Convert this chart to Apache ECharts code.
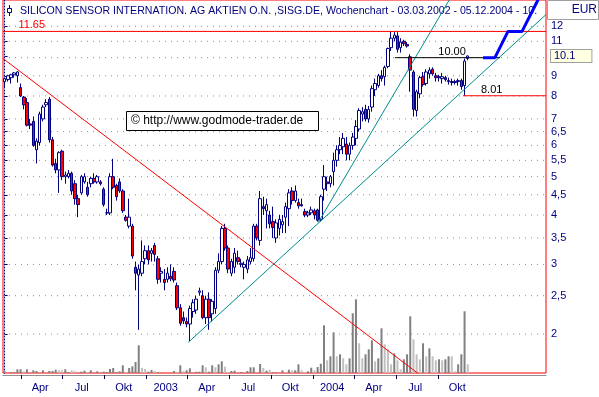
<!DOCTYPE html>
<html><head><meta charset="utf-8">
<script src="https://cdn.jsdelivr.net/npm/echarts@6/dist/echarts.min.js"></script>
<style>html,body{margin:0;padding:0;background:#fff}#c{width:599px;height:397px}</style>
</head><body><div id="c"></div>
<script>
// ---------- DATA ----------
const titleText = 'SILICON SENSOR INTERNATION. AG AKTIEN O.N. ,SISG.DE, Wochenchart - 03.03.2002 - 05.12.2004 - 10.';
const firstWeek = '2002-02-24';
const weekCount = 170; // weeks on the time axis (data + empty projection room)

const weekOpen = [8.7,8.8,8.9,9.05,9.0,8.4,7.95,7.7,6.8,6.9,
5.85,6.1,7.0,7.6,7.85,6.2,5.4,5.2,5.8,5.0,
5.0,5.1,4.8,4.4,4.55,4.85,4.7,4.8,4.95,4.85,
4.85,4.65,4.05,4.05,5.0,4.75,4.85,4.6,3.95,3.75,
3.75,2.95,2.82,2.85,3.1,3.25,3.2,3.35,3.1,2.85,
2.75,2.75,2.8,2.88,2.65,2.33,2.2,2.15,2.12,2.28,
2.3,2.55,2.5,2.2,2.45,2.25,2.32,2.9,3.05,3.7,
3.3,2.85,2.95,3.12,3.0,2.95,2.92,3.05,3.1,3.75,
3.45,4.2,4.1,4.0,3.85,3.5,3.7,3.78,3.95,4.15,
4.6,4.35,4.3,4.25,4.08,4.0,4.05,4.1,4.12,3.9,
4.65,4.85,4.8,5.15,5.5,5.85,5.95,6.05,5.7,6.0,
6.25,6.6,7.2,7.4,7.0,7.5,8.3,8.5,9.0,8.95,
9.5,10.6,11.2,11.35,10.6,11.0,10.8,10.05,9.2,7.35,
8.1,8.95,8.6,9.1,9.35,9.0,8.95,8.85,8.9,8.75,
8.7,8.65,8.7,8.75,8.5,9.95];
const weekHigh = [8.9,9.05,9.1,9.2,9.25,8.6,8.0,7.9,7.0,7.1,
6.25,7.3,7.6,7.85,7.95,6.3,5.55,5.8,5.85,5.15,
5.2,5.15,4.9,4.5,5.05,5.1,4.85,5.0,5.1,5.05,
4.9,4.7,4.15,5.1,5.55,4.8,4.95,4.65,4.0,4.4,
3.8,3.05,3.0,3.45,3.35,3.35,3.3,3.4,3.15,2.95,
2.92,2.95,3.0,2.95,2.7,2.38,2.28,2.2,2.36,2.45,
2.5,2.62,2.58,2.5,2.55,2.45,2.95,3.2,3.75,3.8,
3.35,3.1,3.3,3.25,3.1,3.05,3.15,3.3,3.8,3.8,
4.6,4.45,4.4,4.1,4.2,3.9,4.0,4.0,4.3,4.65,
4.7,4.75,4.4,4.4,4.15,4.1,4.2,4.15,4.15,4.5,
5.35,5.0,5.05,5.75,6.0,6.3,6.45,6.3,6.1,6.45,
6.95,7.45,7.5,7.6,7.55,8.5,8.85,9.1,9.3,9.55,
10.6,11.65,11.6,11.6,11.2,11.1,10.95,10.2,9.3,8.3,
9.0,9.2,9.35,9.45,9.45,9.15,9.05,9.15,9.0,8.9,
8.85,8.8,8.85,8.85,9.95,10.12];
const weekLow = [8.4,8.7,8.6,8.9,8.65,7.95,7.4,6.7,6.6,5.95,
5.4,6.0,6.9,7.5,6.1,5.3,5.1,4.55,4.9,4.8,
4.95,4.5,4.25,3.95,4.5,4.8,4.45,4.7,4.8,4.8,
4.75,4.2,4.0,4.0,4.65,4.35,4.55,4.05,3.85,3.7,
3.1,2.58,2.05,2.8,3.0,3.0,3.05,3.05,2.68,2.7,
2.58,2.7,2.72,2.7,2.3,2.1,2.12,2.08,1.92,2.2,
2.25,2.5,2.18,2.12,2.05,2.15,2.25,2.85,3.0,3.25,
2.85,2.8,2.85,3.0,2.95,2.75,2.85,3.0,3.05,3.45,
3.35,4.0,3.7,3.7,3.5,3.4,3.55,3.6,3.6,3.75,
4.25,4.3,4.15,4.2,3.95,3.95,4.0,3.9,3.85,3.85,
4.35,4.6,4.7,4.75,5.3,5.7,5.7,5.5,5.5,5.85,
6.0,6.5,6.9,6.9,6.85,7.3,8.0,8.4,8.7,8.5,
9.4,10.4,11.0,10.3,10.3,10.7,10.6,8.2,7.1,7.1,
7.9,8.45,8.5,8.85,9.0,8.7,8.7,8.6,8.7,8.55,
8.5,8.55,8.5,8.3,8.01,9.85];
const weekClose = [8.85,9.0,9.05,9.15,9.2,8.0,7.6,6.75,6.75,6.0,
6.15,7.2,7.5,7.7,6.2,5.35,5.2,5.75,5.0,5.05,
5.1,4.6,4.4,4.25,5.0,5.0,4.5,4.95,4.85,5.0,
4.8,4.25,4.05,5.0,4.7,4.45,4.6,4.1,3.88,3.95,
3.15,2.85,2.92,3.05,3.25,3.08,3.25,3.18,2.75,2.88,
2.7,2.85,2.76,2.74,2.33,2.13,2.16,2.12,2.32,2.4,
2.45,2.57,2.2,2.45,2.2,2.42,2.9,3.05,3.7,3.3,
2.92,3.05,3.2,3.05,3.02,3.0,3.08,3.12,3.75,3.5,
4.4,4.15,4.25,3.8,3.72,3.82,3.9,3.85,4.2,4.55,
4.35,4.6,4.22,4.22,4.0,4.05,4.12,4.0,3.88,4.45,
5.0,4.8,5.0,5.5,5.85,6.0,6.25,5.7,6.0,6.3,
6.7,7.35,7.3,7.0,7.4,8.35,8.6,9.0,8.85,9.45,
10.55,11.2,11.4,10.5,10.95,10.85,10.7,9.3,7.4,8.2,
8.9,8.55,9.2,9.3,9.1,8.9,8.9,8.95,8.8,8.7,
8.65,8.7,8.75,8.45,9.8,10.1];

// weekly volume (arbitrary units); dark = first shade, light = second shade
const volumeDark = [17,null,10,10,37,37,null,37,null,27,
20,null,27,null,20,20,33,null,null,37,
10,null,null,null,13,23,null,27,null,17,
null,13,10,40,50,10,17,77,null,50,
67,110,277,null,null,13,30,null,7,3,
null,null,null,20,null,77,null,27,47,null,
13,13,77,null,13,77,null,87,117,null,
null,20,23,null,10,null,20,57,57,null,
90,null,23,null,7,7,null,27,null,33,
null,27,87,null,null,17,53,null,60,93,
477,null,167,407,null,187,null,null,147,597,
737,null,null,187,237,327,null,147,447,null,
null,null,197,null,null,137,187,567,null,null,
null,297,null,247,null,null,137,null,137,167,
null,null,87,187,617,null];
const volumeLight = [null,null,null,null,null,null,17,null,null,null,
null,null,null,null,null,null,null,27,27,null,
null,27,20,null,null,null,10,null,null,null,
null,null,null,null,null,null,null,null,10,null,
null,null,null,50,40,null,null,20,null,null,
null,null,null,null,13,null,20,null,null,null,
null,null,null,57,null,null,57,null,null,63,
10,null,null,null,null,null,null,null,null,null,
null,50,null,33,null,null,null,null,10,null,
27,null,null,27,10,null,null,27,null,null,
null,127,null,null,167,null,147,87,null,null,
null,297,147,null,null,null,117,null,null,287,
237,87,null,127,37,null,null,null,337,187,
137,null,167,null,167,127,null,127,null,null,
167,17,null,null,null,87];

// drawn lines, as [week index, price]
const resistanceLine = [[-0.5, 9.95], [135, 1.47]];
const supportLine1 = [[57.5, 1.905], [169.5, 12.85]];
const supportLine2 = [[98.2, 3.83], [145, 16.8]];
const highLine = [[-0.5, 11.65], [169.5, 11.65]];
const level10Line = [[122.2, 10.0], [155.1, 10.0]];
const level801Line = [[143.5, 8.01], [169.5, 8.01]];
const projectionLine = [[149.8, 10.0], [153.5, 10.0], [157.6, 11.65], [162.0, 11.65], [166.7, 13.85], [169.5, 15.4]];

const quarterStarts = ['2002-04-01','2002-07-01','2002-10-01','2003-01-01','2003-04-01','2003-07-01','2003-10-01','2004-01-01','2004-04-01','2004-07-01','2004-10-01'];
const quarterLabels = ['Apr','Jul','Okt','2003','Apr','Jul','Okt','2004','Apr','Jul','Okt'];
const priceTicks = [2,2.5,3,3.5,4,4.5,5,5.5,6,6.5,7,8,9,10.1,11,12];
const gridLevels = [2,2.5,3,3.5,4,4.5,5,5.5,6,6.5,7,8,9,10,11,12];

// ---------- BUILD ----------
const WEEK = 7 * 86400000;
const t0 = Date.parse(firstWeek + 'T00:00:00Z');
const pad = n => (n < 10 ? '0' : '') + n;
const categories = [];
for (let i = 0; i < weekCount; i++) {
  const d = new Date(t0 + i * WEEK);
  categories.push(pad(d.getUTCDate()) + '.' + pad(d.getUTCMonth() + 1) + '.' + d.getUTCFullYear());
}
const tickPos = quarterStarts.map(s => (Date.parse(s + 'T00:00:00Z') - t0) / WEEK);
const labelPos = tickPos.map(p => p + 6);
const candles = weekOpen.map((o, i) => [o, weekClose[i], weekLow[i], weekHigh[i]]);

const FONT = '"Liberation Sans", Arial, sans-serif';
const NAVY = '#000080';

function lineSeries(name, data, color, width, z, extra) {
  return Object.assign({
    type: 'line', name, data, xAxisIndex: 1, yAxisIndex: 0,
    showSymbol: false, symbol: 'none', silent: true, animation: false, z,
    lineStyle: { color, width }
  }, extra || {});
}
function textMark(coord, text, color, offY) {
  return {
    symbol: 'rect', symbolSize: 1, silent: true,
    itemStyle: { color: 'rgba(0,0,0,0)' },
    label: { show: true, position: 'inside', offset: [0, offY], color, fontSize: 11, fontFamily: FONT, formatter: text },
    data: [{ coord }]
  };
}
const gridSeries = gridLevels.map(v => ({
  type: 'line', name: 'grid' + v, data: [[-0.5, v], [weekCount - 0.5, v]], xAxisIndex: 1, yAxisIndex: 0,
  showSymbol: false, symbol: 'none', silent: true, z: 1,
  lineStyle: { color: '#8c8c8c', width: 1, type: [1, 5] }
}));

const chart = echarts.init(document.getElementById('c'), null, { renderer: 'canvas' });
chart.setOption({
  animation: false,
  backgroundColor: '#fff',
  textStyle: { fontFamily: FONT },
  grid: { left: 3, right: 53, top: 0, bottom: 24, show: true, borderColor: '#ff0000', borderWidth: 1 },
  xAxis: [
    { type: 'category', data: categories, show: false, boundaryGap: true },
    { type: 'value', min: -0.5, max: weekCount - 0.5, position: 'bottom', offset: 2,
      axisLine: { show: true, lineStyle: { color: '#909090' } },
      axisTick: { show: true, customValues: tickPos, length: 4, lineStyle: { color: '#000050' } },
      axisLabel: { customValues: labelPos, color: NAVY, fontSize: 11, margin: 7,
        formatter: v => { let k = 0, b = 1e9; labelPos.forEach((p, j) => { if (Math.abs(p - v) < b) { b = Math.abs(p - v); k = j; } }); return quarterLabels[k]; } },
      splitLine: { show: false } }
  ],
  yAxis: [
    { type: 'log', min: 1.594, max: 13.99, position: 'right', offset: 2,
      axisLine: { show: true, lineStyle: { color: NAVY, type: [1, 2] } },
      axisTick: { show: true, customValues: priceTicks, length: 3, lineStyle: { color: NAVY } },
      axisLabel: { customValues: priceTicks, color: NAVY, fontSize: 11, margin: 3,
        formatter: v => Math.abs(v - 10.1) < 1e-6 ? '{hl|10.1}' : String(Math.round(v * 10) / 10).replace('.', ','),
        rich: { hl: { backgroundColor: '#ffffe1', borderColor: '#a0a0a0', borderWidth: 1, padding: [1, 16, 0, 3], color: NAVY, fontSize: 11 } } },
      splitLine: { show: false } },
    { type: 'value', min: 0, max: 3730, show: false, position: 'left' }
  ],
  graphic: [
    { type: 'line', z: 0, shape: { x1: 9.5, y1: 5, x2: 9.5, y2: 16 }, style: { stroke: NAVY, lineWidth: 1 } },
    { type: 'rect', z: 0, shape: { x: 7.5, y: 8.5, width: 4, height: 4 }, style: { fill: '#fff', stroke: NAVY, lineWidth: 1 } },
    { type: 'text', z: 0, x: 20, y: 11, style: { text: titleText, fill: NAVY, font: '10.6px ' + FONT, textVerticalAlign: 'middle' } },
    { type: 'rect', z: 0, shape: { x: 547.5, y: 0.5, width: 51, height: 19 }, style: { fill: '#fff', stroke: '#a0a0a0', lineWidth: 1 } },
    { type: 'text', z: 1, x: 597, y: 10, style: { text: 'EUR', fill: NAVY, font: '12px ' + FONT, textAlign: 'right', textVerticalAlign: 'middle' } },
    { type: 'rect', z: 10, shape: { x: 126.5, y: 111.5, width: 192, height: 19 }, style: { fill: '#fff', stroke: '#000', lineWidth: 1 } },
    { type: 'text', z: 11, x: 131, y: 121, style: { text: '\u00a9 http://www.godmode-trader.de', fill: '#000', font: '12px ' + FONT, textVerticalAlign: 'middle' } }
  ],
  series: gridSeries.concat([
    { type: 'bar', name: 'volDark', data: volumeDark, xAxisIndex: 0, yAxisIndex: 1, barWidth: 2, barGap: '-100%', silent: true, z: 1, itemStyle: { color: '#808080' } },
    { type: 'bar', name: 'volLight', data: volumeLight, xAxisIndex: 0, yAxisIndex: 1, barWidth: 2, barGap: '-100%', silent: true, z: 1, itemStyle: { color: '#c0c0c0' } },
    { type: 'candlestick', name: 'SISG', data: candles, xAxisIndex: 0, yAxisIndex: 0, barWidth: 3, silent: true, z: 2,
      itemStyle: { color: '#ffffff', color0: '#ff0000', borderColor: NAVY, borderColor0: NAVY, borderWidth: 1 } },
    lineSeries('resistance', resistanceLine, '#ff0000', 1, 3),
    lineSeries('support1', supportLine1, '#008b8b', 1, 3),
    lineSeries('support2', supportLine2, '#008b8b', 1, 3),
    lineSeries('high', highLine, '#ff0000', 1, 3, { markPoint: textMark([8.5, 11.65], '11.65', '#ff0000', -6) }),
    lineSeries('level10', level10Line, '#000000', 1, 3, { markPoint: textMark([140.1, 10.0], '10.00', '#000000', -6) }),
    lineSeries('level801', level801Line, '#ff0000', 1, 3, { markPoint: textMark([152.5, 8.01], '8.01', '#000000', -6) }),
    lineSeries('projection', projectionLine, '#0000ff', 3, 4)
  ])
});
</script></body></html>
